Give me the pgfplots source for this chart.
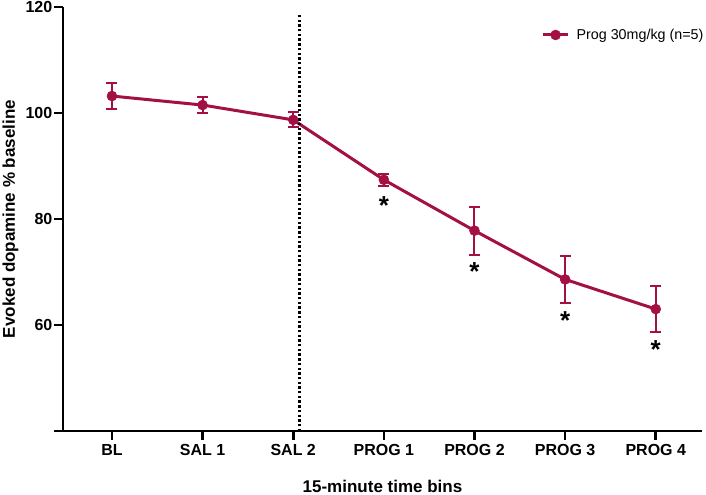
\documentclass[border=0pt]{standalone}
\usepackage{fontspec}
\setmainfont{Liberation Sans}
\usepackage{pgfplots}
\pgfplotsset{compat=1.18}
\definecolor{prog}{RGB}{163,16,68}
\begin{document}
\begin{tikzpicture}
\useasboundingbox (-63bp,-64bp) rectangle (643bp,431bp);
\begin{axis}[
 at={(0,0)}, anchor=south west, scale only axis,
 width=639bp, height=424bp,
 xmin=-0.54, xmax=6.51, ymin=40, ymax=120,
 axis x line*=bottom, axis y line*=left,
 axis line style={line width=2.6bp, black},
 xtick={0,...,6}, xticklabels={BL,SAL 1,SAL 2,PROG 1,PROG 2,PROG 3,PROG 4},
 ytick={40,60,80,100,120}, yticklabels={,60,80,100,120},
 tick align=outside, major tick length=8.5bp,
 every tick/.style={line width=2.6bp, black},
 /pgf/number format/assume math mode=true,
 ticklabel style={font=\bfseries\fontsize{16bp}{16bp}\selectfont},
 xticklabel style={inner sep=0pt, yshift=-5bp, anchor=north},
 yticklabel style={inner sep=0pt, xshift=-2bp, anchor=east},
 clip=false,
 legend style={draw=none, fill=none, at={(0.749,0.934)}, anchor=west,
   inner sep=0pt, outer sep=0pt, font=\fontsize{14.3bp}{14.3bp}\selectfont,
   nodes={inner sep=0pt}},
 legend cell align=left,
 legend image code/.code={\draw[#1, mark repeat=2, mark phase=2] plot coordinates {(0bp,0bp) (12.5bp,0bp) (25bp,0bp)};},
]
\addplot[color=prog, line width=3bp, mark=*, mark size=5bp,
  mark options={solid, fill=prog, draw=prog, line width=0.5bp},
  error bars/.cd, y dir=both, y explicit,
  error bar style={line width=2bp, color=prog},
  error mark options={rotate=90, mark size=5.5bp, line width=2bp, color=prog}]
coordinates {
 (0,103.2) +- (0,2.4)
 (1,101.5) +- (0,1.5)
 (2,98.7) +- (0,1.4)
 (3,87.4) +- (0,1.1)
 (4,77.8) +- (0,4.5)
 (5,68.6) +- (0,4.5)
 (6,63.0) +- (0,4.3)
};
\addlegendentry{\hspace*{7bp}Prog 30mg/kg (n=5)}
\addplot[forget plot, black, line width=2.4bp, dash pattern=on 2.4bp off 2.3bp] coordinates {(2.07,40) (2.07,118.5)};
\node[anchor=north, inner sep=0pt, font=\bfseries\fontsize{26bp}{26bp}\selectfont] at (axis cs:3,84.2) {*};
\node[anchor=north, inner sep=0pt, font=\bfseries\fontsize{26bp}{26bp}\selectfont] at (axis cs:4,71.9) {*};
\node[anchor=north, inner sep=0pt, font=\bfseries\fontsize{26bp}{26bp}\selectfont] at (axis cs:5,62.5) {*};
\node[anchor=north, inner sep=0pt, font=\bfseries\fontsize{26bp}{26bp}\selectfont] at (axis cs:6,57.0) {*};
\end{axis}
\node[rotate=90, anchor=base, inner sep=0pt, font=\bfseries\fontsize{17bp}{17bp}\selectfont] at (-48bp,212bp) {Evoked dopamine \% baseline};
\node[anchor=base, inner sep=0pt, font=\bfseries\fontsize{17bp}{17bp}\selectfont] at (319.5bp,-61bp) {15-minute time bins};
\end{tikzpicture}
\end{document}
